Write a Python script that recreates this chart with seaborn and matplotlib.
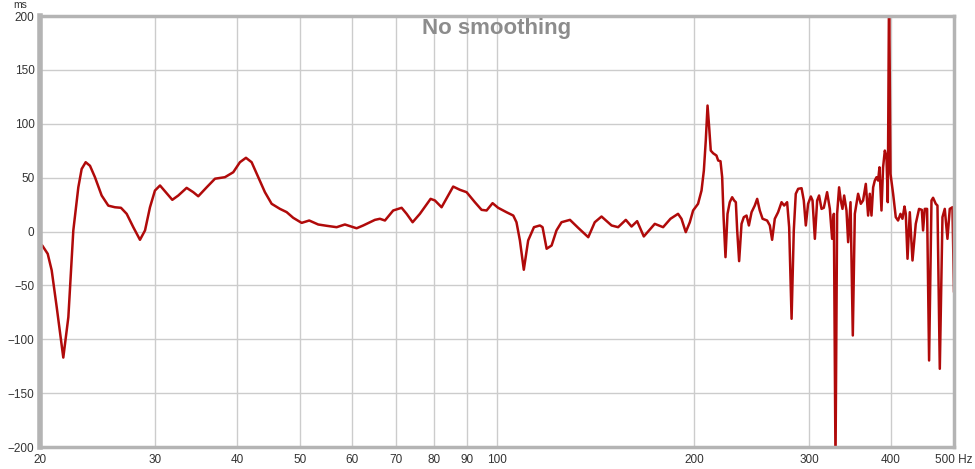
import matplotlib
matplotlib.use("Agg")
import matplotlib.pyplot as plt
import seaborn as sns
import pandas as pd
from matplotlib.ticker import FixedLocator, NullLocator

# group delay curve (Hz, ms)
freq_hz = [
    20.0, 20.16, 20.55, 20.84, 21.21, 21.71, 22.10, 22.49, 22.89, 23.16, 23.49,
    23.85, 24.27, 24.85, 25.44, 26.04, 26.60, 27.14, 27.78, 28.44, 28.95, 29.46,
    29.98, 30.52, 31.14, 31.87, 32.55, 33.52, 34.31, 34.92, 35.97, 37.04, 38.36,
    39.50, 40.44, 41.31, 42.14, 43.13, 44.16, 45.22, 46.56, 47.67, 48.79, 50.26,
    51.62, 53.28, 54.88, 56.85, 58.53, 60.99, 62.43, 63.18, 65.06, 66.21, 67.39,
    69.38, 71.47, 72.74, 74.29, 76.22, 79.15, 80.36, 82.27, 83.91, 85.70, 87.75,
    89.84, 92.50, 94.71, 96.40, 98.45, 100.4, 103.4, 105.9, 107.1, 108.4, 109.9,
    111.6, 113.9, 116.3, 117.4, 119.1, 121.2, 123.3, 125.5, 129.3, 133.1, 137.9,
    141.1, 144.5, 149.7, 153.2, 157.4, 160.6, 163.8, 167.7, 174.3, 179.5, 184.2,
    189.2, 191.5, 194.4, 197.2, 199.5, 203.0, 205.5, 207.2, 208.6, 209.9, 211.1,
    212.3, 214.1, 216.6, 217.9, 219.7, 221.0, 222.1, 223.6, 225.2, 227.0, 228.9,
    230.5, 231.9, 233.0, 234.6, 236.6, 238.5, 240.8, 242.8, 245.1, 247.9, 250.0,
    252.3, 254.8, 258.9, 261.4, 263.5, 266.0, 269.1, 272.4, 274.9, 277.8, 279.8,
    282.2, 284.4, 286.4, 288.8, 292.3, 294.6, 296.7, 299.1, 302.0, 303.8, 306.3,
    308.8, 310.9, 313.6, 316.1, 319.8, 322.9, 325.5, 327.5, 329.4, 331.3, 333.6,
    335.6, 337.6, 339.6, 342.4, 344.4, 347.3, 350.1, 352.6, 356.7, 360.1, 363.0,
    366.5, 369.5, 371.7, 373.9, 376.1, 378.3, 380.6, 382.7, 384.6, 387.3, 389.5,
    391.9, 394.2, 396.0, 397.8, 399.8, 403.5, 407.3, 410.6, 414.1, 417.0, 420.0,
    421.9, 424.5, 427.9, 432.0, 437.0, 442.1, 446.4, 448.4, 451.1, 454.8, 458.0,
    461.9, 464.5, 468.9, 471.7, 475.6, 480.1, 484.0, 488.6, 492.6, 497.3, 500.0,
]
delay_ms = [
    -12, -13, -20.7, -36, -70, -117, -79.5, 1, 41, 58, 64.3,
    61, 50.4, 33.4, 24, 22.5, 22, 16.4, 4, -7.7, 1, 22.5,
    38, 42.7, 36.5, 29.4, 33.4, 40.5, 36.5, 32.7, 41, 49, 50.4,
    55, 64.3, 68.4, 64.3, 50.4, 36.5, 25.7, 21, 18, 12.7, 8,
    10.2, 6.5, 5.3, 4, 6.5, 3, 5.6, 7.1, 10.8, 11.8, 10.2,
    19.5, 22, 16.4, 8.6, 16.4, 30.3, 28.8, 22.5, 31.8, 41.7, 38.7,
    36.5, 27.2, 20.1, 19.5, 26.3, 22, 17.9, 14.8, 8.6, -8.3, -35.5,
    -8.3, 4, 5.6, 4, -16, -13, 1, 8.6, 10.8, 3.4, -5.3,
    8.6, 13.9, 5.6, 4, 10.8, 4.6, 9.6, -4.6, 7.1, 4, 11.8,
    16.4, 11.8, -0.6, 8.6, 19.5, 25.7, 38, 56.6, 84.4, 116.9, 96.8,
    75.1, 72.6, 70.5, 65.9, 65.2, 50.4, 13.3, -23.8, 16.4, 27.2, 31.8,
    28.8, 27.2, 1, -27.5, 7.1, 13.3, 14.8, 5.6, 17.9, 24.1, 30.3,
    19.5, 11.8, 10.2, 5.6, -7.7, 11.8, 17.9, 27.2, 24.1, 27.2, 4,
    -81, 1, 35, 39.6, 40.2, 28.8, 5.6, 25.7, 32.5, 28.8, -6.8,
    28.8, 33.4, 21, 22, 36.5, 21, -6.8, 16.4, -215, 16.4, 41,
    28.8, 21, 33.4, 19.5, -9.9, 27.2, -96.5, 16.4, 35, 25.7, 28.8,
    44.2, 14.8, 35, 14.8, 41, 47.3, 50.4, 47.3, 59.6, 19.5, 59.6,
    75.1, 68.9, 27.2, 230, 53.5, 35, 13.3, 10.2, 16.4, 11.8, 23.2,
    16.4, -25.3, 17.9, -26.9, 7.1, 21, 20.1, 1, 21, 21, -119.7,
    28.8, 31.3, 25.7, 24.1, -127.4, 13.3, 21, -6.8, 21, 22.5, -56.3,
]

x_ticks = [20, 30, 40, 50, 60, 70, 80, 90, 100, 200, 300, 400, 500]
x_tick_labels = ["20", "30", "40", "50", "60", "70", "80", "90", "100",
                 "200", "300", "400", "500 Hz"]
y_ticks = [-200, -150, -100, -50, 0, 50, 100, 150, 200]

sns.set_style("white")
plt.rcParams["font.family"] = ["Liberation Sans", "DejaVu Sans"]

df = pd.DataFrame({"freq": freq_hz, "delay": delay_ms})

fig = plt.figure(figsize=(9.75, 4.69), dpi=100)
ax = fig.add_axes([40 / 975, 1 - 447 / 469, 914 / 975, 431 / 469])

sns.lineplot(data=df, x="freq", y="delay", ax=ax, color="#b00a0a",
             linewidth=1.8, estimator=None, sort=False)

ax.set_xscale("log")
ax.set_xlim(20, 500)
ax.set_ylim(-200, 200)
ax.xaxis.set_major_locator(FixedLocator(x_ticks))
ax.xaxis.set_minor_locator(NullLocator())
ax.set_xticklabels(x_tick_labels)
ax.set_yticks(y_ticks)
ax.set_xlabel("")
ax.set_ylabel("")

ax.grid(True, color="#cccccc", linewidth=1.0)
ax.set_axisbelow(True)
ax.tick_params(length=0, labelsize=8.5, labelcolor="#333333")
ax.tick_params(axis="x", pad=5)
ax.tick_params(axis="y", pad=4)

for name, side in ax.spines.items():
    side.set_visible(True)
    side.set_color("#b4b4b4")
    side.set_linewidth(2.5)
ax.spines["left"].set_linewidth(4)

ax.text(0.5, 0.995, "No smoothing", transform=ax.transAxes, ha="center",
        va="top", fontsize=16, fontweight="bold", color="#8c8c8c")
fig.text(20 / 975, 1 - 5 / 469, "ms", ha="center", va="center",
         fontsize=7.5, color="#333333")

fig.savefig("out.png", dpi=100)
